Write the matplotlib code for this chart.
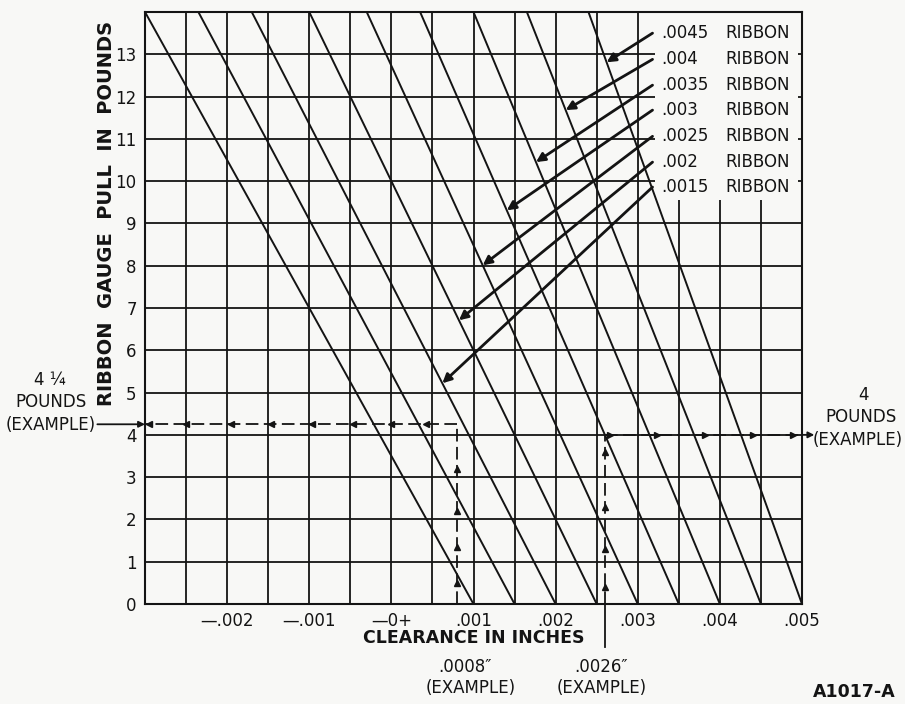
import matplotlib
matplotlib.use("Agg")
import matplotlib.pyplot as plt
import numpy as np
from matplotlib.patches import Rectangle

W, H = 905, 704
BG = "#f8f8f6"
INK = "#141414"

plt.rcParams["font.family"] = ["DejaVu Sans"]

# Scales: clearance in inches, ribbon gauge pull in pounds
x_min, x_max = -0.003, 0.005
y_min, y_max = 0, 14
x_grid_step = 0.0005
x_tick_values = [-0.002, -0.001, 0.0, 0.001, 0.002, 0.003, 0.004, 0.005]
x_tick_labels = ["\u2014.002", "\u2014.001", "\u20140+", ".001", ".002", ".003", ".004", ".005"]
y_tick_values = list(range(0, 14))

# Ribbon gauge lines: clearance where each line meets 14 lb and 0 lb
line_x_at_14 = [-0.0030, -0.00235, -0.0017, -0.0010, -0.0003, 0.00035, 0.0010, 0.00165, 0.0024]
line_x_at_0 = [0.0010, 0.0015, 0.0020, 0.0025, 0.0030, 0.0035, 0.0040, 0.0045, 0.0050]

# Ribbon callouts: label, which line it points at, row height and arrow tip height (lb)
ribbon_labels = [".0045", ".004", ".0035", ".003", ".0025", ".002", ".0015"]
ribbon_line_index = [8, 7, 6, 5, 4, 3, 2]
ribbon_label_lbs = [13.50, 12.88, 12.27, 11.68, 11.06, 10.45, 9.86]
ribbon_tip_lbs = [12.81, 11.68, 10.45, 9.31, 8.01, 6.71, 5.22]

# Worked examples
ex_left_clearance = 0.0008
ex_left_pull = 4.25
ex_right_clearance = 0.0026
ex_right_pull = 4.0

# Direction arrowheads along the example guide lines
left_h_arrows = [-0.00295, -0.0025, -0.00195, -0.00146, -0.00097, -0.00047, 0.0, 0.00042]
left_v_arrows = [0.5, 1.35, 2.2, 3.2]
right_v_arrows = [0.4, 1.3, 2.3, 3.6]
right_h_arrows = [0.00266, 0.00323, 0.00382, 0.0044, 0.00489]


def fx(px):
    return px / W


def fy(py):
    return 1 - py / H


fig = plt.figure(figsize=(W / 100, H / 100), dpi=100, facecolor=BG)
ax = fig.add_axes([fx(145), fy(604), (802 - 145) / W, (604 - 12) / H])
ax.set_facecolor(BG)
ax.set_xlim(x_min, x_max)
ax.set_ylim(y_min, y_max)

# Grid every 0.0005 in and every pound
grid_x = np.round(np.arange(x_min, x_max + x_grid_step / 2, x_grid_step), 5)
labels = []
for g in grid_x:
    lab = ""
    for v, t in zip(x_tick_values, x_tick_labels):
        if abs(g - v) < 1e-7:
            lab = t
    labels.append(lab)
ax.set_xticks(grid_x)
ax.set_xticklabels(labels, fontsize=12, color=INK)
ax.set_yticks(list(range(0, 15)))
ax.set_yticklabels([str(v) if v in y_tick_values else "" for v in range(0, 15)],
                   fontsize=12, color=INK)
ax.tick_params(length=0, pad=6)
ax.set_axisbelow(True)
ax.grid(True, color=INK, lw=1.3)
for s in ax.spines.values():
    s.set_color(INK)
    s.set_linewidth(1.5)
    s.set_zorder(4)

# Clear area behind the ribbon callouts
ax.add_patch(Rectangle((0.00321, 9.55), 0.00495 - 0.00321, y_max - 9.55,
                       facecolor=BG, edgecolor="none", zorder=1))

# Ribbon gauge lines
for x14, x0 in zip(line_x_at_14, line_x_at_0):
    ax.plot([x14, x0], [14, 0], color=INK, lw=1.4, zorder=2, solid_capstyle="butt")

# Ribbon callouts
for lab, idx, ly, ty in zip(ribbon_labels, ribbon_line_index, ribbon_label_lbs, ribbon_tip_lbs):
    x14, x0 = line_x_at_14[idx], line_x_at_0[idx]
    tip_x = x0 + (x14 - x0) * ty / 14
    ax.annotate("", xy=(tip_x, ty), xytext=(0.00318, ly),
                arrowprops=dict(arrowstyle="-|>", color=INK, lw=2.0,
                                mutation_scale=13, shrinkA=0, shrinkB=0), zorder=3)
    ax.text(0.00329, ly, lab, ha="left", va="center", fontsize=12, color=INK, zorder=3)
    ax.text(0.00407, ly, "RIBBON", ha="left", va="center", fontsize=12, color=INK, zorder=3)

dash = (0, (7, 3))
# Left example: up from clearance, across to pull
ax.plot([ex_left_clearance, ex_left_clearance], [0, ex_left_pull], color=INK, lw=1.3, ls=dash, zorder=3)
ax.plot([ex_left_clearance, x_min], [ex_left_pull, ex_left_pull], color=INK, lw=1.3, ls=dash, zorder=3)
ax.plot(left_h_arrows, [ex_left_pull] * len(left_h_arrows), ls="none", marker="<",
        ms=4.5, color=INK, zorder=3)
ax.plot([ex_left_clearance] * len(left_v_arrows), left_v_arrows, ls="none", marker="^",
        ms=4.5, color=INK, zorder=3)
ax.annotate("", xy=(x_min, ex_left_pull), xytext=(-0.00358, ex_left_pull),
            arrowprops=dict(arrowstyle="-|>", color=INK, lw=1.3, mutation_scale=9,
                            shrinkA=0, shrinkB=0), annotation_clip=False)

# Right example: up from clearance, across to pull
ax.plot([ex_right_clearance, ex_right_clearance], [0, ex_right_pull], color=INK, lw=1.3, ls=dash, zorder=3)
ax.plot([ex_right_clearance, x_max], [ex_right_pull, ex_right_pull], color=INK, lw=1.3, ls=dash, zorder=3)
ax.plot(right_h_arrows, [ex_right_pull] * len(right_h_arrows), ls="none", marker=">",
        ms=4.5, color=INK, zorder=3)
ax.plot([ex_right_clearance] * len(right_v_arrows), right_v_arrows, ls="none", marker="^",
        ms=4.5, color=INK, zorder=3)
ax.annotate("", xy=(0.00515, ex_right_pull), xytext=(x_max, ex_right_pull),
            arrowprops=dict(arrowstyle="-|>", color=INK, lw=1.3, mutation_scale=9,
                            shrinkA=0, shrinkB=0), annotation_clip=False)
ax.plot([ex_right_clearance, ex_right_clearance], [0, -1.02], color=INK, lw=1.3, clip_on=False)

# Axis titles
fig.text(fx(106), fy(213), "RIBBON  GAUGE  PULL  IN  POUNDS", rotation=90, ha="center",
         va="center", fontsize=14, fontweight="bold", color=INK)
fig.text(fx(474), fy(638), "CLEARANCE IN INCHES", ha="center", va="center",
         fontsize=12.5, fontweight="bold", color=INK)

# Example captions
kw = dict(ha="center", va="center", fontsize=12, color=INK)
fig.text(fx(50), fy(380), "4 \u00bc", **kw)
fig.text(fx(51), fy(402), "POUNDS", **kw)
fig.text(fx(51), fy(425), "(EXAMPLE)", **kw)
fig.text(fx(863), fy(395), "4", **kw)
fig.text(fx(861), fy(417), "POUNDS", **kw)
fig.text(fx(858), fy(440), "(EXAMPLE)", **kw)
fig.text(fx(465), fy(667), ".0008\u2033", **kw)
fig.text(fx(471), fy(688), "(EXAMPLE)", **kw)
fig.text(fx(601), fy(667), ".0026\u2033", **kw)
fig.text(fx(602), fy(688), "(EXAMPLE)", **kw)

fig.text(fx(813), fy(701), "A1017-A", ha="left", va="bottom", fontsize=12.5,
         fontweight="bold", color=INK)

fig.savefig("out.png", dpi=100, facecolor=BG)
